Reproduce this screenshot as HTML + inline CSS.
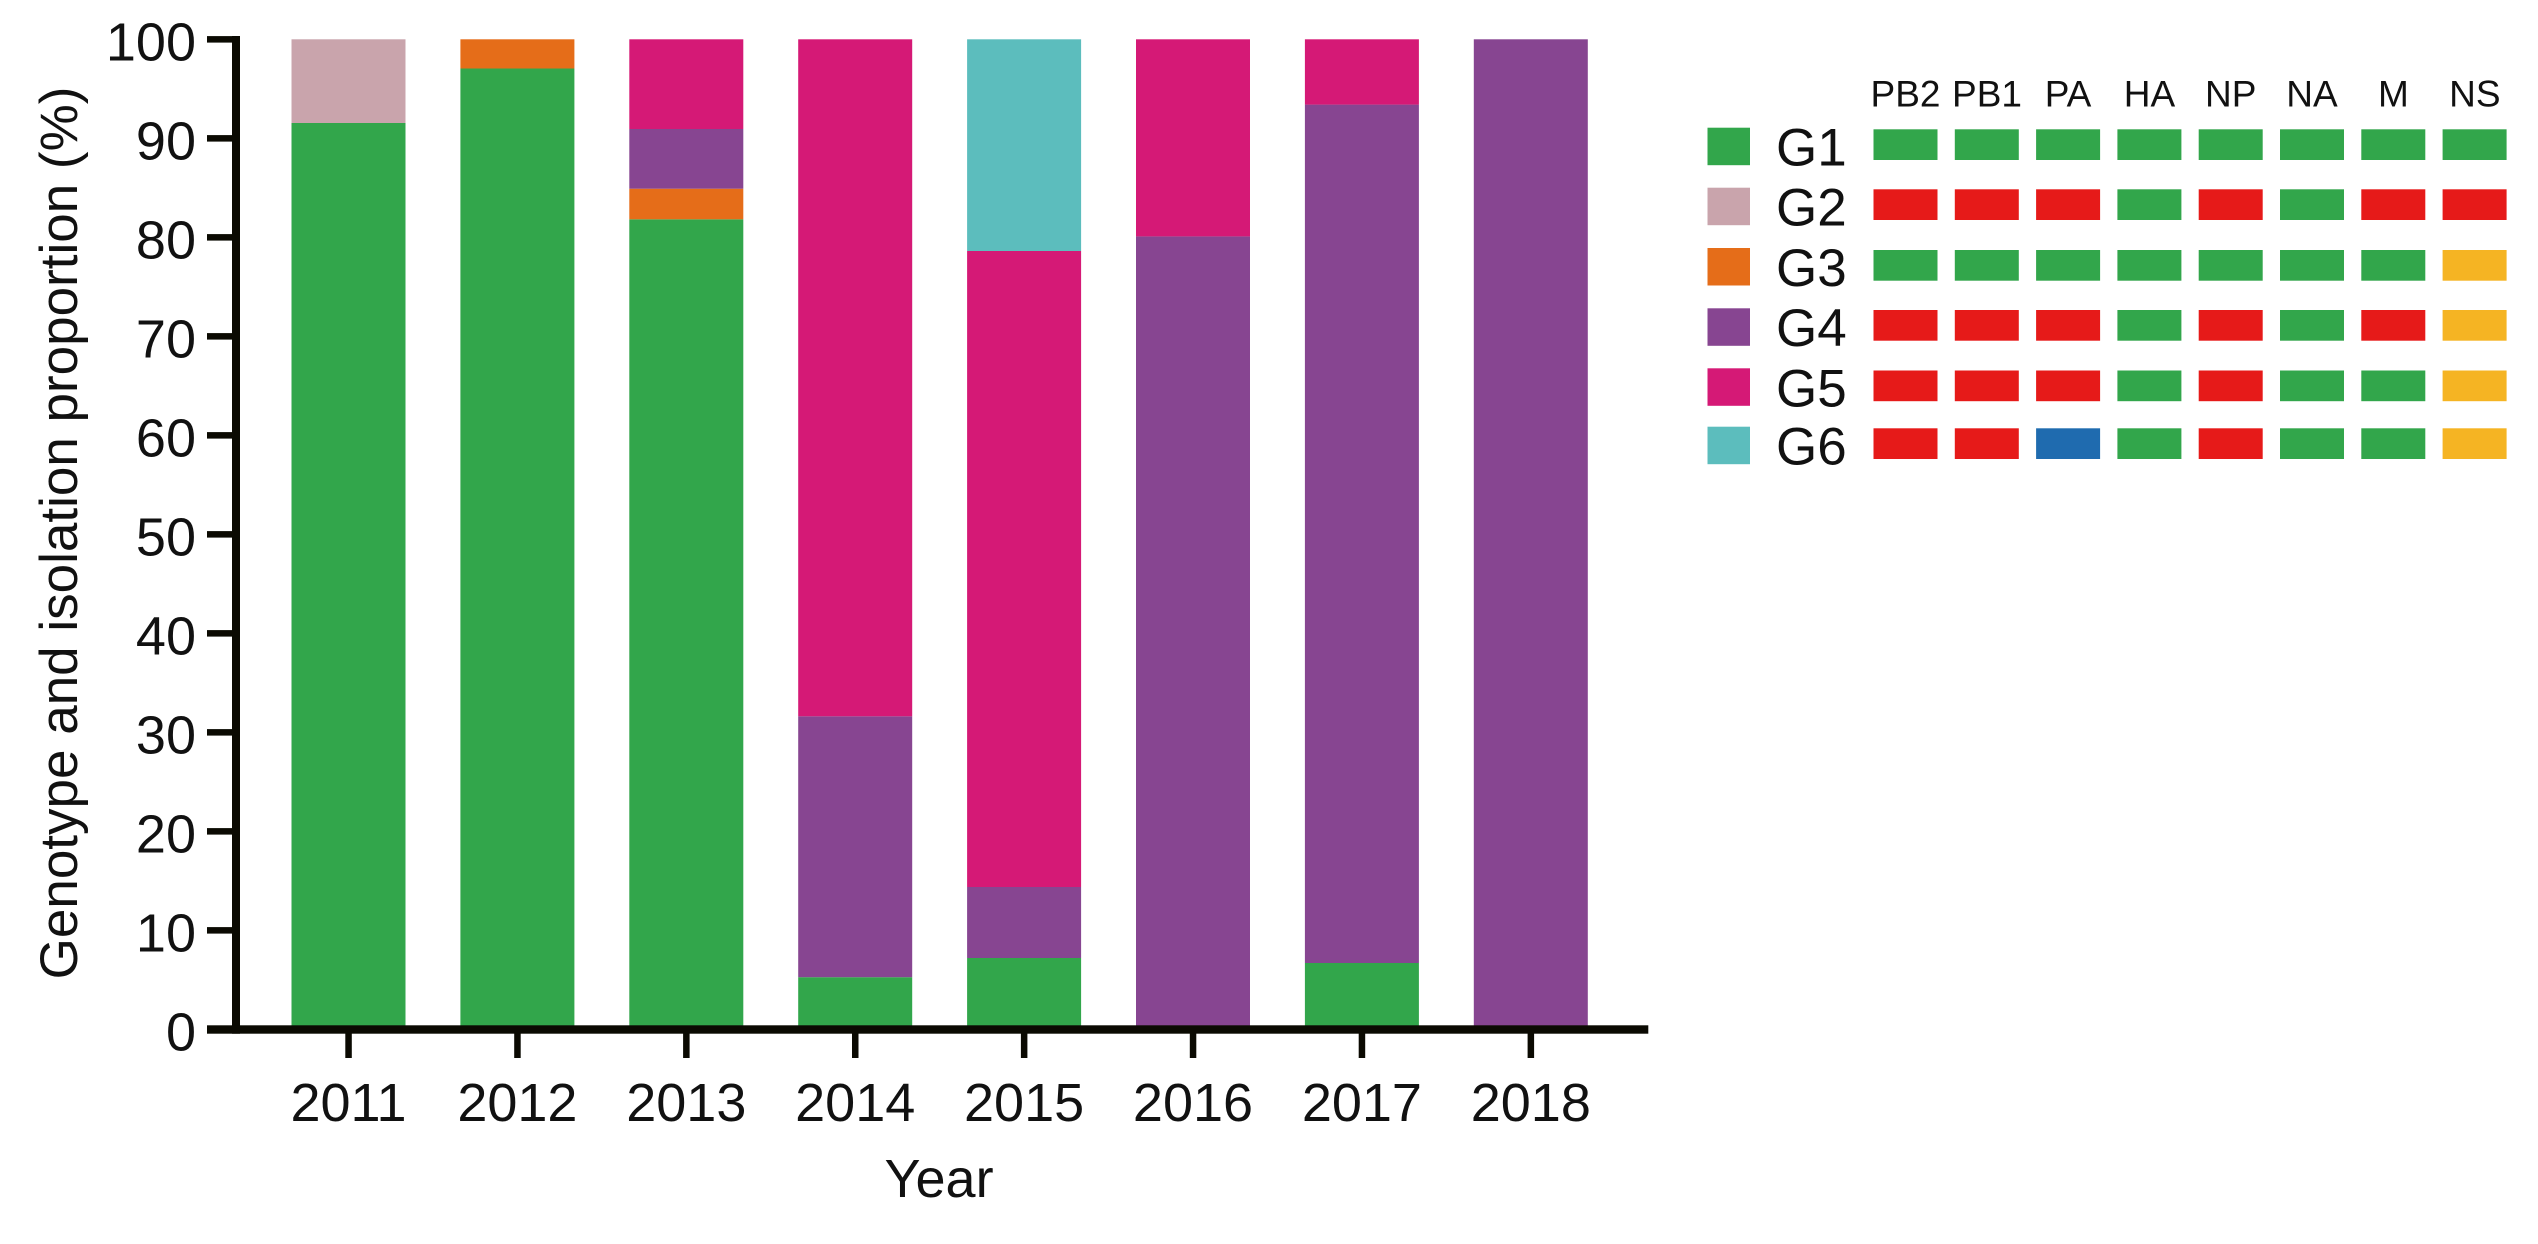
<!DOCTYPE html>
<html>
<head>
<meta charset="utf-8">
<style>
html,body{margin:0;padding:0;background:#fff;}
svg{display:block;}
text{font-family:"Liberation Sans",Arial,sans-serif;fill:#111;}
</style>
</head>
<body>
<svg width="2538" height="1244" viewBox="0 0 2538 1244" xmlns="http://www.w3.org/2000/svg">
<rect x="0" y="0" width="2538" height="1244" fill="#fff"/>

<!-- Bars: y(v)=1029.3-9.9v ; width 114 -->
<!-- 2011 -->
<rect x="291.5" y="123.0" width="114" height="906.3" fill="#32A64B"/>
<rect x="291.5" y="39.3" width="114" height="83.7" fill="#C9A4AC"/>
<!-- 2012 -->
<rect x="460.4" y="68.5" width="114" height="960.8" fill="#32A64B"/>
<rect x="460.4" y="39.3" width="114" height="29.2" fill="#E56D19"/>
<!-- 2013 -->
<rect x="629.3" y="219.3" width="114" height="810" fill="#32A64B"/>
<rect x="629.3" y="188.7" width="114" height="30.6" fill="#E56D19"/>
<rect x="629.3" y="129.0" width="114" height="59.7" fill="#874591"/>
<rect x="629.3" y="39.3" width="114" height="89.7" fill="#D51976"/>
<!-- 2014 -->
<rect x="798.2" y="977.2" width="114" height="52.1" fill="#32A64B"/>
<rect x="798.2" y="716.3" width="114" height="260.9" fill="#874591"/>
<rect x="798.2" y="39.3" width="114" height="677" fill="#D51976"/>
<!-- 2015 -->
<rect x="967.1" y="958.0" width="114" height="71.3" fill="#32A64B"/>
<rect x="967.1" y="887.0" width="114" height="71" fill="#874591"/>
<rect x="967.1" y="251.0" width="114" height="636" fill="#D51976"/>
<rect x="967.1" y="39.3" width="114" height="211.7" fill="#5CBDBD"/>
<!-- 2016 -->
<rect x="1136.0" y="236.4" width="114" height="792.9" fill="#874591"/>
<rect x="1136.0" y="39.3" width="114" height="197.1" fill="#D51976"/>
<!-- 2017 -->
<rect x="1304.9" y="963.0" width="114" height="66.3" fill="#32A64B"/>
<rect x="1304.9" y="104.6" width="114" height="858.4" fill="#874591"/>
<rect x="1304.9" y="39.3" width="114" height="65.3" fill="#D51976"/>
<!-- 2018 -->
<rect x="1473.8" y="39.3" width="114" height="990" fill="#874591"/>

<!-- Axes -->
<g fill="#0b0a02">
<rect x="232" y="36" width="8" height="997.7"/>
<rect x="207" y="1025.3" width="1441.3" height="8.4"/>
<!-- y ticks -->
<rect x="207" y="36.1" width="33" height="6.5"/>
<rect x="207" y="135.1" width="33" height="6.5"/>
<rect x="207" y="234.1" width="33" height="6.5"/>
<rect x="207" y="333.1" width="33" height="6.5"/>
<rect x="207" y="432.1" width="33" height="6.5"/>
<rect x="207" y="531.1" width="33" height="6.5"/>
<rect x="207" y="630.1" width="33" height="6.5"/>
<rect x="207" y="729.1" width="33" height="6.5"/>
<rect x="207" y="828.1" width="33" height="6.5"/>
<rect x="207" y="927.1" width="33" height="6.5"/>
<!-- x ticks -->
<rect x="345.3" y="1033" width="6.5" height="25"/>
<rect x="514.2" y="1033" width="6.5" height="25"/>
<rect x="683.1" y="1033" width="6.5" height="25"/>
<rect x="852.0" y="1033" width="6.5" height="25"/>
<rect x="1020.9" y="1033" width="6.5" height="25"/>
<rect x="1189.8" y="1033" width="6.5" height="25"/>
<rect x="1358.7" y="1033" width="6.5" height="25"/>
<rect x="1527.6" y="1033" width="6.5" height="25"/>
</g>

<!-- Y tick labels -->
<g font-size="54" text-anchor="end">
<text x="196" y="1050.3">0</text>
<text x="196" y="951.3">10</text>
<text x="196" y="852.3">20</text>
<text x="196" y="753.3">30</text>
<text x="196" y="654.3">40</text>
<text x="196" y="555.3">50</text>
<text x="196" y="456.3">60</text>
<text x="196" y="357.3">70</text>
<text x="196" y="258.3">80</text>
<text x="196" y="159.3">90</text>
<text x="196" y="60.3">100</text>
</g>

<!-- X tick labels -->
<g font-size="54" text-anchor="middle">
<text x="348.5" y="1121">2011</text>
<text x="517.4" y="1121">2012</text>
<text x="686.3" y="1121">2013</text>
<text x="855.2" y="1121">2014</text>
<text x="1024.1" y="1121">2015</text>
<text x="1193.0" y="1121">2016</text>
<text x="1361.9" y="1121">2017</text>
<text x="1530.8" y="1121">2018</text>
</g>

<!-- Axis titles -->
<text x="939" y="1197" font-size="54" text-anchor="middle">Year</text>
<text transform="translate(77,533) rotate(-90)" x="0" y="0" font-size="53" text-anchor="middle">Genotype and isolation proportion (%)</text>

<!-- Legend header -->
<g font-size="37" text-anchor="middle">
<text x="1905.5" y="106.5">PB2</text>
<text x="1987" y="106.5">PB1</text>
<text x="2068" y="106.5">PA</text>
<text x="2149.5" y="106.5">HA</text>
<text x="2230.7" y="106.5">NP</text>
<text x="2312" y="106.5">NA</text>
<text x="2393.4" y="106.5">M</text>
<text x="2474.8" y="106.5">NS</text>
</g>

<!-- Legend swatches -->
<rect x="1707.5" y="127.7" width="42.5" height="37.5" fill="#32A64B"/>
<rect x="1707.5" y="187.7" width="42.5" height="37.5" fill="#C9A4AC"/>
<rect x="1707.5" y="248.0" width="42.5" height="37.5" fill="#E56D19"/>
<rect x="1707.5" y="308.3" width="42.5" height="37.5" fill="#874591"/>
<rect x="1707.5" y="368.3" width="42.5" height="37.5" fill="#D51976"/>
<rect x="1707.5" y="426.7" width="42.5" height="37.5" fill="#5CBDBD"/>

<g font-size="53">
<text x="1776" y="165.5">G1</text>
<text x="1776" y="225.5">G2</text>
<text x="1776" y="285.8">G3</text>
<text x="1776" y="346.1">G4</text>
<text x="1776" y="406.3">G5</text>
<text x="1776" y="464.6">G6</text>
</g>

<!-- Segment boxes -->
<g>
<!-- G1 -->
<rect x="1873.5" y="129.3" width="64" height="30.7" fill="#32A64B"/>
<rect x="1954.8" y="129.3" width="64" height="30.7" fill="#32A64B"/>
<rect x="2036.1" y="129.3" width="64" height="30.7" fill="#32A64B"/>
<rect x="2117.4" y="129.3" width="64" height="30.7" fill="#32A64B"/>
<rect x="2198.7" y="129.3" width="64" height="30.7" fill="#32A64B"/>
<rect x="2280.0" y="129.3" width="64" height="30.7" fill="#32A64B"/>
<rect x="2361.3" y="129.3" width="64" height="30.7" fill="#32A64B"/>
<rect x="2442.6" y="129.3" width="64" height="30.7" fill="#32A64B"/>
<!-- G2 -->
<rect x="1873.5" y="189.3" width="64" height="30.7" fill="#E61A19"/>
<rect x="1954.8" y="189.3" width="64" height="30.7" fill="#E61A19"/>
<rect x="2036.1" y="189.3" width="64" height="30.7" fill="#E61A19"/>
<rect x="2117.4" y="189.3" width="64" height="30.7" fill="#32A64B"/>
<rect x="2198.7" y="189.3" width="64" height="30.7" fill="#E61A19"/>
<rect x="2280.0" y="189.3" width="64" height="30.7" fill="#32A64B"/>
<rect x="2361.3" y="189.3" width="64" height="30.7" fill="#E61A19"/>
<rect x="2442.6" y="189.3" width="64" height="30.7" fill="#E61A19"/>
<!-- G3 -->
<rect x="1873.5" y="250.0" width="64" height="30.7" fill="#32A64B"/>
<rect x="1954.8" y="250.0" width="64" height="30.7" fill="#32A64B"/>
<rect x="2036.1" y="250.0" width="64" height="30.7" fill="#32A64B"/>
<rect x="2117.4" y="250.0" width="64" height="30.7" fill="#32A64B"/>
<rect x="2198.7" y="250.0" width="64" height="30.7" fill="#32A64B"/>
<rect x="2280.0" y="250.0" width="64" height="30.7" fill="#32A64B"/>
<rect x="2361.3" y="250.0" width="64" height="30.7" fill="#32A64B"/>
<rect x="2442.6" y="250.0" width="64" height="30.7" fill="#F5B423"/>
<!-- G4 -->
<rect x="1873.5" y="310.0" width="64" height="30.7" fill="#E61A19"/>
<rect x="1954.8" y="310.0" width="64" height="30.7" fill="#E61A19"/>
<rect x="2036.1" y="310.0" width="64" height="30.7" fill="#E61A19"/>
<rect x="2117.4" y="310.0" width="64" height="30.7" fill="#32A64B"/>
<rect x="2198.7" y="310.0" width="64" height="30.7" fill="#E61A19"/>
<rect x="2280.0" y="310.0" width="64" height="30.7" fill="#32A64B"/>
<rect x="2361.3" y="310.0" width="64" height="30.7" fill="#E61A19"/>
<rect x="2442.6" y="310.0" width="64" height="30.7" fill="#F5B423"/>
<!-- G5 -->
<rect x="1873.5" y="370.5" width="64" height="30.7" fill="#E61A19"/>
<rect x="1954.8" y="370.5" width="64" height="30.7" fill="#E61A19"/>
<rect x="2036.1" y="370.5" width="64" height="30.7" fill="#E61A19"/>
<rect x="2117.4" y="370.5" width="64" height="30.7" fill="#32A64B"/>
<rect x="2198.7" y="370.5" width="64" height="30.7" fill="#E61A19"/>
<rect x="2280.0" y="370.5" width="64" height="30.7" fill="#32A64B"/>
<rect x="2361.3" y="370.5" width="64" height="30.7" fill="#32A64B"/>
<rect x="2442.6" y="370.5" width="64" height="30.7" fill="#F5B423"/>
<!-- G6 -->
<rect x="1873.5" y="428.3" width="64" height="30.7" fill="#E61A19"/>
<rect x="1954.8" y="428.3" width="64" height="30.7" fill="#E61A19"/>
<rect x="2036.1" y="428.3" width="64" height="30.7" fill="#1F6BAF"/>
<rect x="2117.4" y="428.3" width="64" height="30.7" fill="#32A64B"/>
<rect x="2198.7" y="428.3" width="64" height="30.7" fill="#E61A19"/>
<rect x="2280.0" y="428.3" width="64" height="30.7" fill="#32A64B"/>
<rect x="2361.3" y="428.3" width="64" height="30.7" fill="#32A64B"/>
<rect x="2442.6" y="428.3" width="64" height="30.7" fill="#F5B423"/>
</g>
</svg>
</body>
</html>
